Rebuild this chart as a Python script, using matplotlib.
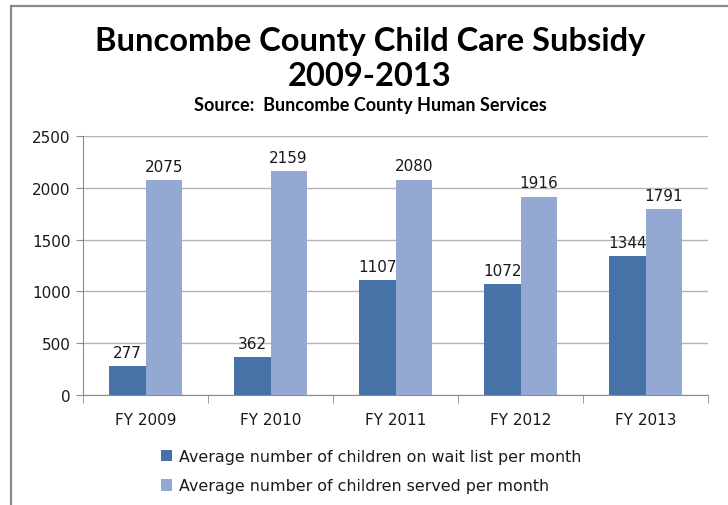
import matplotlib

matplotlib.use("Agg")
import matplotlib.pyplot as plt
import numpy as np
from matplotlib.patches import Rectangle

categories = ["FY 2009", "FY 2010", "FY 2011", "FY 2012", "FY 2013"]
wait_list = [277, 362, 1107, 1072, 1344]
served = [2075, 2159, 2080, 1916, 1791]
series_labels = [
    "Average number of children on wait list per month",
    "Average number of children served per month",
]
y_ticks = [0, 500, 1000, 1500, 2000, 2500]

DARK = "#4672a8"
LIGHT = "#94a9d1"
GRID = "#b4b4b4"
AXIS = "#8c8c8c"
TEXT = "#1a1a1a"
TITLE_FONT = ["Lato", "DejaVu Sans"]

W, H = 728, 506
fig = plt.figure(figsize=(W / 100, H / 100), dpi=100, facecolor="white")

# chart frame (left and top edges visible in the crop)
fig.patches.append(
    Rectangle((11 / W, -0.1), 1.2, 1 - 7 / H + 0.1, transform=fig.transFigure,
              fill=False, edgecolor="#8a8a8a", linewidth=1.6)
)

ax = fig.add_axes([83 / W, 1 - 396 / H, (708 - 83) / W, (396 - 137) / H])
x = np.arange(len(categories))
width = 0.29
b1 = ax.bar(x - width / 2, wait_list, width, color=DARK, label=series_labels[0], zorder=3)
b2 = ax.bar(x + width / 2, served, width, color=LIGHT, label=series_labels[1], zorder=3)

for bars in (b1, b2):
    for bar in bars:
        ax.text(bar.get_x() + bar.get_width() / 2, bar.get_height() + 60,
                f"{int(bar.get_height())}", ha="center", va="bottom",
                fontsize=11, color=TEXT, zorder=4)

ax.set_xlim(-0.5, len(categories) - 0.5)
ax.set_ylim(0, 2500)
ax.set_yticks(y_ticks)
ax.set_yticklabels([str(t) for t in y_ticks], fontsize=11, color=TEXT)
ax.set_xticks(x)
ax.set_xticklabels(categories, fontsize=11, color=TEXT)
ax.set_xticks(np.arange(len(categories) + 1) - 0.5, minor=True)
ax.tick_params(axis="x", which="major", length=0, pad=12)
ax.tick_params(axis="x", which="minor", length=6, color=AXIS, direction="out")
ax.tick_params(axis="y", length=5, color=AXIS, pad=4)
ax.grid(axis="y", color=GRID, linewidth=1.0, zorder=0)
for side in ("top", "right"):
    ax.spines[side].set_visible(False)
ax.spines["left"].set_color(AXIS)
ax.spines["bottom"].set_color(AXIS)

fig.text(370 / W, 1 - 42 / H, "Buncombe County Child Care Subsidy", ha="center",
         va="center", fontsize=23.5, fontweight="bold", family=TITLE_FONT)
fig.text(370 / W, 1 - 77 / H, "2009-2013", ha="center", va="center",
         fontsize=23.5, fontweight="bold", family=TITLE_FONT)
fig.text(370 / W, 1 - 105 / H, "Source:  Buncombe County Human Services", ha="center",
         va="center", fontsize=13, fontweight="bold", family=TITLE_FONT)

fig.legend(loc="upper left", bbox_to_anchor=(147 / W, 1 - 436 / H), frameon=False,
           fontsize=11.4, handlelength=0.7, handleheight=0.7, handletextpad=0.4,
           labelspacing=0.9, labelcolor=TEXT)

fig.savefig("out.png", dpi=100, facecolor="white")
